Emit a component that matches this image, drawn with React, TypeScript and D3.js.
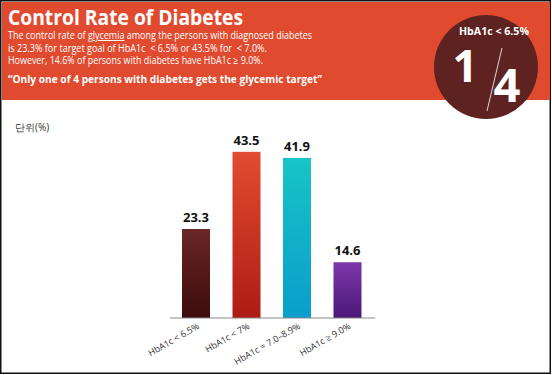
import React from "react";
import * as d3 from "d3";

const categories = ["HbA1c < 6.5%", "HbA1c < 7%", "HbA1c = 7.0–8.9%", "HbA1c ≥ 9.0%"];
const values = [23.3, 43.5, 41.9, 14.6];
const valueLabels = ["23.3", "43.5", "41.9", "14.6"];
const gradients = [
  ["#6a2626", "#3e0b0b"],
  ["#e24c30", "#ae1b14"],
  ["#17c4c6", "#0b9dcb"],
  ["#7c38aa", "#4c1878"],
];
const subLines = [
  "is 23.3% for target goal of HbA1c  < 6.5% or 43.5% for  < 7.0%.",
  "However, 14.6% of persons with diabetes have HbA1c ≥ 9.0%.",
];
const subWidths = [259, 255];

export default function App() {
  const W = 552, H = 375;
  const x = d3.scaleBand<string>().domain(categories).range([171, 372.5]).paddingInner(0.4455).paddingOuter(0.218);
  const y = d3.scaleLinear().domain([0, 50]).range([318, 127]);
  const font = "'Open Sans', 'Noto Sans', sans-serif";
  return (
    <svg width={W} height={H} style={{ position: "absolute", left: 0, top: 0 }} fontFamily={font}>
      <defs>
        {gradients.map((g, i) => (
          <linearGradient key={i} id={`g${i}`} x1="0" y1="0" x2="0" y2="1">
            <stop offset="0" stopColor={g[0]} />
            <stop offset="1" stopColor={g[1]} />
          </linearGradient>
        ))}
      </defs>
      <rect x={0} y={0} width={W} height={H} fill="#fff" />
      <rect x={0.75} y={0.75} width={W - 2.5} height={H - 2.5} fill="none" stroke="#111" strokeWidth={1.5} />
      <rect x={2} y={2} width={W - 4} height={98} fill="#e04b2f" />
      <text x={8} y={25} fill="#fff" fontSize={21} fontWeight={700} textLength={235} lengthAdjust="spacingAndGlyphs">Control Rate of Diabetes</text>
      <text x={8} y={39} fill="#fff" fontSize={10} textLength={304} lengthAdjust="spacingAndGlyphs">
        The control rate of <tspan textDecoration="underline">glycemia</tspan> among the persons with diagnosed diabetes
      </text>
      {subLines.map((s, i) => (
        <text key={i} x={8} y={51.5 + i * 12} fill="#fff" fontSize={10} textLength={subWidths[i]} lengthAdjust="spacingAndGlyphs" xmlSpace="preserve">{s}</text>
      ))}
      <text x={8} y={83} fill="#fff" fontSize={11} fontWeight={700} textLength={314} lengthAdjust="spacingAndGlyphs">“Only one of 4 persons with diabetes gets the glycemic target”</text>
      <circle cx={486} cy={67} r={52} fill="#5e2320" />
      <text x={494} y={35} fill="#fff" fontSize={10.5} fontWeight={700} textAnchor="middle" textLength={70} lengthAdjust="spacingAndGlyphs">HbA1c &lt; 6.5%</text>
      <text x={465} y={82} fill="#fff" fontSize={44} fontWeight={700} textAnchor="middle">1</text>
      <line x1={487} y1={111} x2={502} y2={48} stroke="#fff" strokeWidth={0.8} />
      <text x={507} y={102} fill="#fff" fontSize={47} fontWeight={700} textAnchor="middle">4</text>
      <text x={15} y={131} fill="#333" fontSize={10}>단위(%)</text>
      {categories.map((c, i) => (
        <g key={c}>
          <rect x={x(c)} y={y(values[i])} width={x.bandwidth()} height={y(0) - y(values[i])} fill={`url(#g${i})`} />
          <text x={(x(c) as number) + x.bandwidth() / 2} y={y(values[i]) - 7} textAnchor="middle" fontSize={13} fontWeight={700} fill="#111">{valueLabels[i]}</text>
          <text transform={`translate(${(x(c) as number) + x.bandwidth() / 2 + 4},${y(0) + 10}) rotate(-30)`} textAnchor="end" fontSize={9} fill="#333">{c}</text>
        </g>
      ))}
      <line x1={170} x2={375} y1={y(0)} y2={y(0)} stroke="#888" strokeWidth={1} />
    </svg>
  );
}
